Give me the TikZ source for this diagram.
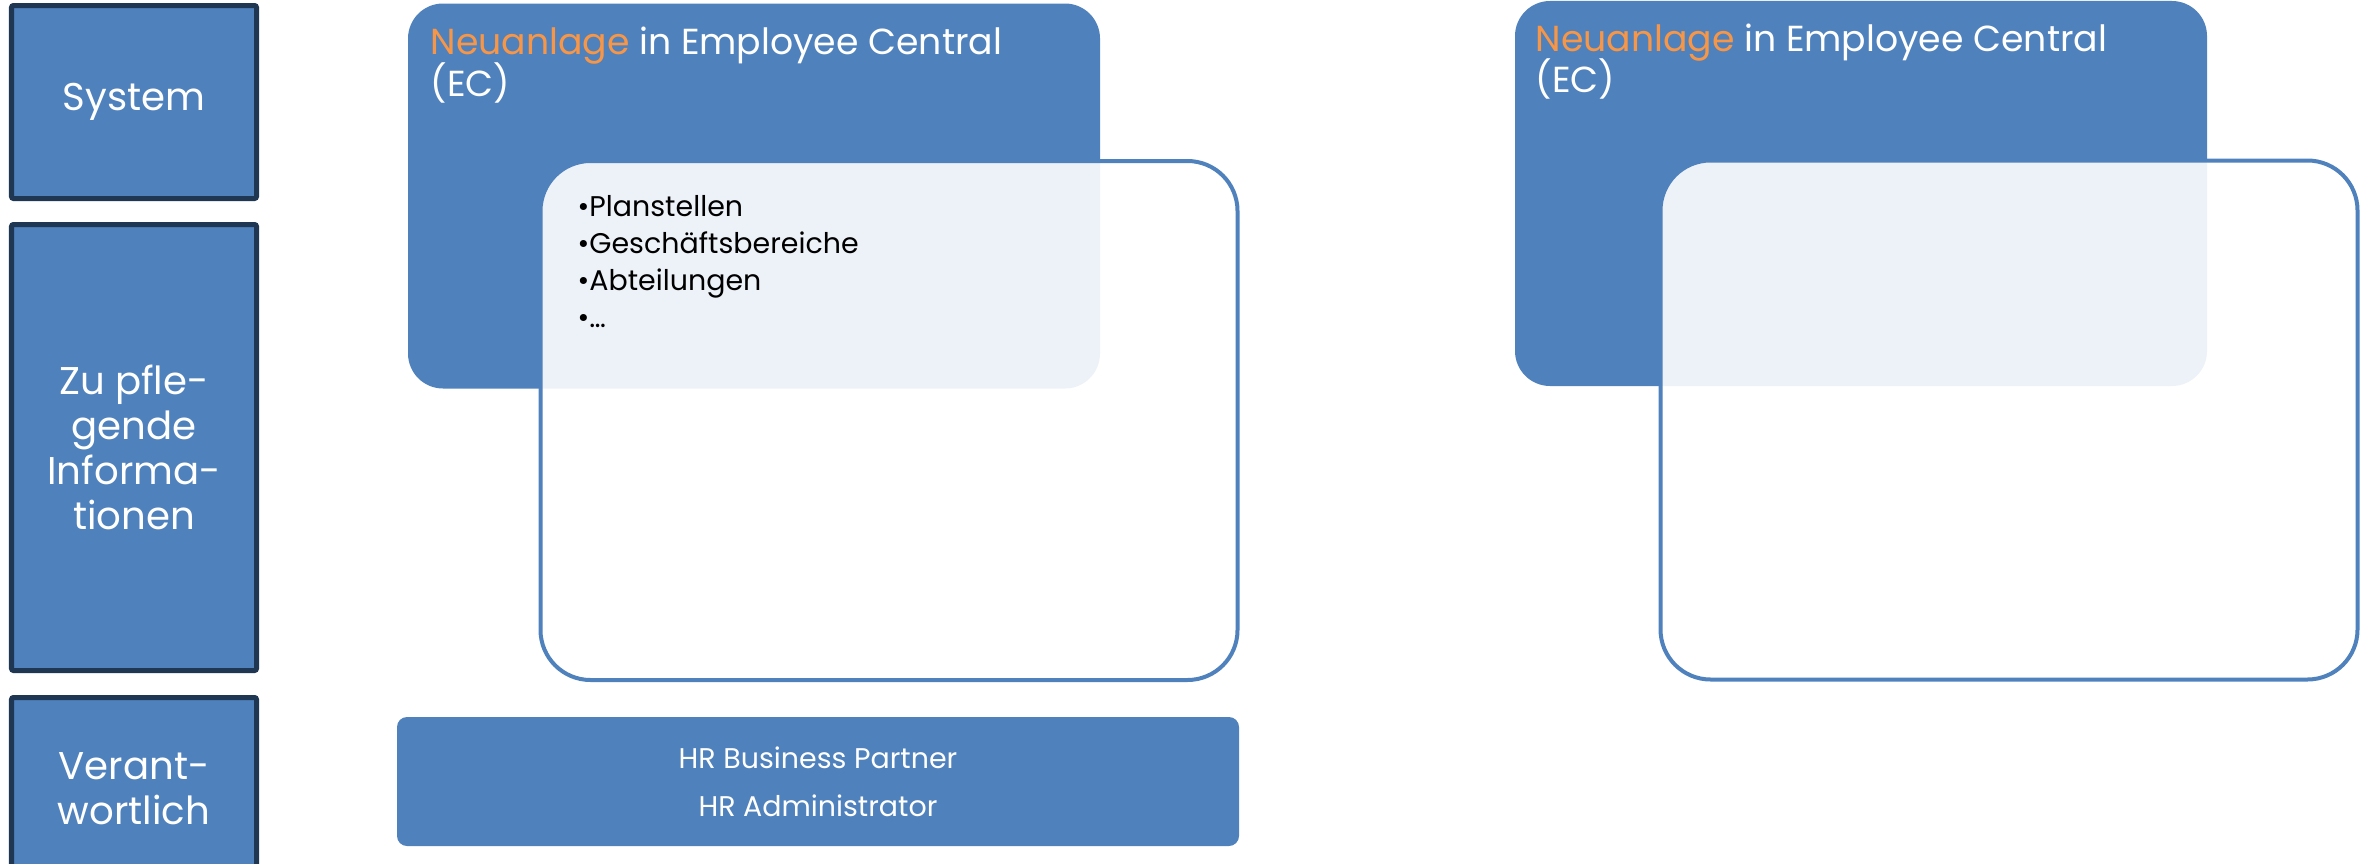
\documentclass[tikz,border=0pt]{standalone}
\usepackage{fontspec}
\setmainfont{Poppins}

\definecolor{ecblue}{HTML}{4F81BD}
\definecolor{ecnavy}{HTML}{1F3752}
\definecolor{ecorange}{HTML}{F79646}

\tikzset{
  rowlabel/.style={rectangle, fill=ecblue, draw=ecnavy, line width=0.05cm,
    rounded corners=0.02cm, minimum width=2.45cm, inner sep=0pt,
    text=white, align=center, font=\fontsize{11}{12.8}\selectfont},
  ecbox/.style={rectangle, fill=ecblue, rounded corners=0.35cm,
    minimum width=6.92cm, minimum height=3.85cm, inner sep=0pt},
  infobox/.style={rectangle, fill=white, fill opacity=0.9, draw=ecblue,
    line width=0.04cm, rounded corners=0.5cm,
    minimum width=6.97cm, minimum height=5.19cm, inner sep=0pt},
  ectitle/.style={anchor=base west, inner sep=0pt, text=white, align=left,
    font=\fontsize{10.3}{11.7}\selectfont},
}

\begin{document}
\begin{tikzpicture}

  \useasboundingbox (0,0) rectangle (23.67,-8.63);

  % row labels
  \node[rowlabel, minimum height=1.93cm]  (system)  at (1.34,-1.02)   {System};
  \node[rowlabel, minimum height=4.46cm]  (info)    at (1.34,-4.475)  {Zu pfle-\\gende\\Informa-\\tionen};
  \node[rowlabel, minimum height=1.825cm] (verant)  at (1.34,-7.8875) {Verant-\\wortlich};

  % first column (base = last line)
  \node[ecbox]   (ec1)   at (7.54,-1.96) {};
  \node[ectitle] (ec1t)  at (4.30,-0.96) {\textcolor{ecorange}{Neuanlage} in Employee Central\\[-1.5pt](EC)};
  \node[infobox] (info1) at (8.89,-4.205) {};
  \node[anchor=base west, inner sep=0pt, align=left,
        font=\fontsize{8.1}{10.44}\selectfont] (list1) at (5.77,-3.27)
        {•Planstellen\\•Geschäftsbereiche\\•Abteilungen\\•…};
  \node[rectangle, fill=ecblue, rounded corners=0.1cm, minimum width=8.42cm,
        minimum height=1.29cm, inner sep=0pt, text=white, align=center,
        font=\fontsize{8.1}{13.7}\selectfont] (resp1) at (8.18,-7.815)
        {HR Business Partner\\HR Administrator};

  % second column
  \node[ecbox]   (ec2)   at (18.61,-1.935) {};
  \node[ectitle] (ec2t)  at (15.35,-0.93) {\textcolor{ecorange}{Neuanlage} in Employee Central\\[-1.5pt](EC)};
  \node[infobox] (info2) at (20.09,-4.20) {};

\end{tikzpicture}
\end{document}
